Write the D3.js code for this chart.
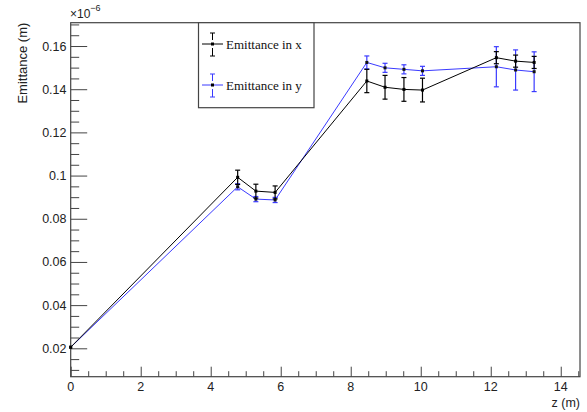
<!DOCTYPE html>
<html><head><meta charset="utf-8">
<script src="https://cdn.jsdelivr.net/npm/d3@7/dist/d3.min.js"></script>
<style>body{margin:0;background:#fff}svg{display:block}</style>
</head><body>
<svg id="c" width="587" height="412"></svg>
<script>
// Data (emittance in units of 1e-6 m)
const zPos   = [0, 4.77, 5.29, 5.84, 8.46, 8.98, 9.52, 10.05, 12.16, 12.71, 13.24];
const emitX  = [0.0205, 0.0992, 0.0928, 0.0922, 0.1438, 0.1409, 0.1399, 0.1396, 0.1546, 0.1530, 0.1524];
const errX   = [0, 0.0033, 0.0032, 0.003, 0.0054, 0.0055, 0.0055, 0.0055, 0.0028, 0.0028, 0.0028];
const emitY  = [0.0205, 0.0948, 0.0891, 0.0887, 0.1524, 0.1499, 0.1492, 0.1485, 0.1504, 0.1489, 0.1481];
const errY   = [0, 0.0014, 0.0012, 0.0012, 0.003, 0.0021, 0.0021, 0.0021, 0.0093, 0.0093, 0.0092];
const seriesNames = ["Emittance in x", "Emittance in y"];
const xTicks = [0, 2, 4, 6, 8, 10, 12, 14];
const yTicks = [0.02, 0.04, 0.06, 0.08, 0.1, 0.12, 0.14, 0.16];
const xDomain = [0, 14.55];
const yDomain = [0.00685, 0.1708];

const svg = d3.select("#c");
const L = 70.7, R = 580, T = 22.7, B = 376.7;
const x = d3.scaleLinear().domain(xDomain).range([L, R]);
const y = d3.scaleLinear().domain(yDomain).range([B, T]);
const axisCol = "#444";
const sans = "'Liberation Sans', Arial, sans-serif";
const serif = "'Liberation Serif', 'Times New Roman', serif";

// frame
svg.append("rect").attr("x", L).attr("y", T).attr("width", R - L).attr("height", B - T)
  .attr("fill", "none").attr("stroke", axisCol).attr("stroke-width", 1.2);

// x axis
const xMinor = d3.range(0, xDomain[1] + 1e-9, 0.5);
const gx = svg.append("g").attr("transform", `translate(0,${B})`);
gx.call(d3.axisTop(x).tickValues(xMinor).tickSize(5.5).tickFormat(""));
gx.call(g => g.selectAll(".tick").filter(d => Math.abs(d / 2 - Math.round(d / 2)) < 1e-9).select("line").attr("y2", -10));
gx.select(".domain").remove();
gx.selectAll("line").attr("stroke", axisCol);
svg.append("g").selectAll("text").data(xTicks).join("text")
  .attr("x", d => x(d)).attr("y", 391).attr("text-anchor", "middle")
  .attr("font-family", sans).attr("font-size", 12.5).attr("fill", "#222").text(d => d);
svg.append("text").attr("x", 580).attr("y", 407).attr("text-anchor", "end")
  .attr("font-family", sans).attr("font-size", 12.5).attr("fill", "#222").text("z (m)");

// y axis
const yMinor = d3.range(0.01, yDomain[1], 0.005);
const gy = svg.append("g").attr("transform", `translate(${L},0)`);
gy.call(d3.axisRight(y).tickValues(yMinor).tickSize(8.5).tickFormat(""));
gy.call(g => g.selectAll(".tick").filter(d => yTicks.some(t => Math.abs(t - d) < 1e-9)).select("line").attr("x2", 16.5));
gy.select(".domain").remove();
gy.selectAll("line").attr("stroke", axisCol);
svg.append("g").selectAll("text").data(yTicks).join("text")
  .attr("x", 66.5).attr("y", d => y(d) + 4.5).attr("text-anchor", "end")
  .attr("font-family", sans).attr("font-size", 12.5).attr("fill", "#222").text(d => d3.format("~g")(d));
svg.append("text").attr("transform", "translate(27,22.7) rotate(-90)").attr("text-anchor", "end")
  .attr("font-family", sans).attr("font-size", 13).attr("fill", "#222").text("Emittance (m)");
const exp = svg.append("text").attr("x", 70).attr("y", 18).attr("font-family", sans).attr("font-size", 12).attr("fill", "#222");
exp.append("tspan").text("×10");
exp.append("tspan").attr("dy", -7).attr("font-size", 9).text("−6");

// series
const series = [
  {vals: emitX, errs: errX, color: "#000000", mark: "#000"},
  {vals: emitY, errs: errY, color: "#3a3aff", mark: "#111"}
];
const line = d3.line().x(d => x(d[0])).y(d => y(d[1]));
series.slice().reverse().forEach(s => {
  const pts = zPos.map((z, i) => [z, s.vals[i], s.errs[i]]);
  const g = svg.append("g");
  g.append("path").attr("d", line(pts)).attr("fill", "none").attr("stroke", s.color).attr("stroke-width", 1);
  pts.forEach(p => {
    if (p[2] > 0) {
      const x0 = x(p[0]), y1 = y(p[1] + p[2]), y2 = y(p[1] - p[2]);
      g.append("line").attr("x1", x0).attr("x2", x0).attr("y1", y1).attr("y2", y2).attr("stroke", s.color).attr("stroke-width", 1.2);
      g.append("line").attr("x1", x0 - 2.5).attr("x2", x0 + 2.5).attr("y1", y1).attr("y2", y1).attr("stroke", s.color).attr("stroke-width", 1.2);
      g.append("line").attr("x1", x0 - 2.5).attr("x2", x0 + 2.5).attr("y1", y2).attr("y2", y2).attr("stroke", s.color).attr("stroke-width", 1.2);
    }
    g.append("rect").attr("x", x(p[0]) - 1.5).attr("y", y(p[1]) - 1.5).attr("width", 3).attr("height", 3).attr("fill", s.mark);
  });
});

// legend
const lg = svg.append("g");
lg.append("rect").attr("x", 198.5).attr("y", 22.7).attr("width", 115.5).attr("height", 85)
  .attr("fill", "#fff").attr("stroke", axisCol).attr("stroke-width", 1.2);
const legY = [44, 85];
series.forEach((s, i) => {
  const cy = legY[i], cx = 212.5;
  lg.append("line").attr("x1", 202).attr("x2", 223).attr("y1", cy).attr("y2", cy).attr("stroke", s.color).attr("stroke-width", 1);
  lg.append("line").attr("x1", cx).attr("x2", cx).attr("y1", cy - 11).attr("y2", cy - 4).attr("stroke", s.color).attr("stroke-width", 1);
  lg.append("line").attr("x1", cx).attr("x2", cx).attr("y1", cy + 4).attr("y2", cy + 12).attr("stroke", s.color).attr("stroke-width", 1);
  lg.append("line").attr("x1", cx - 2.5).attr("x2", cx + 2.5).attr("y1", cy - 11).attr("y2", cy - 11).attr("stroke", s.color).attr("stroke-width", 1);
  lg.append("line").attr("x1", cx - 2.5).attr("x2", cx + 2.5).attr("y1", cy + 12).attr("y2", cy + 12).attr("stroke", s.color).attr("stroke-width", 1);
  lg.append("rect").attr("x", cx - 1.5).attr("y", cy - 1.5).attr("width", 3).attr("height", 3).attr("fill", "#000");
  lg.append("text").attr("x", 226).attr("y", cy + 4.5).attr("font-family", serif).attr("font-size", 13)
    .attr("fill", "#111").text(seriesNames[i]);
});
</script>
</body></html>
